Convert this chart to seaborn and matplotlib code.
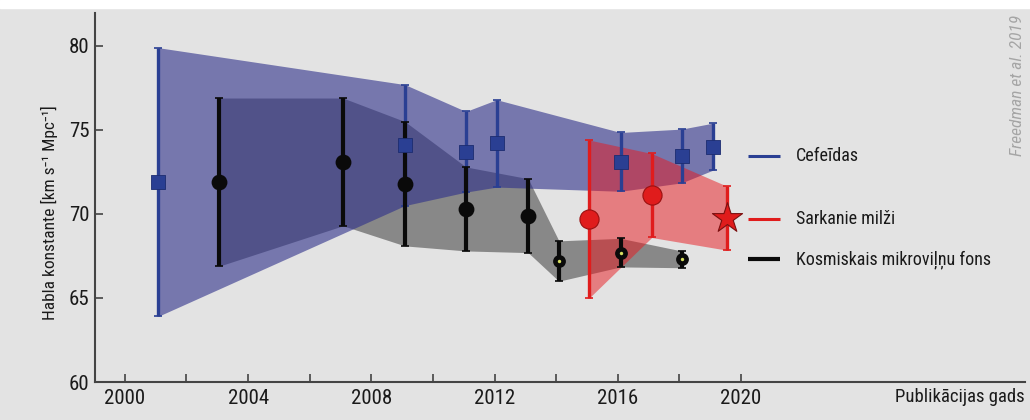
import numpy as np
import matplotlib.pyplot as plt
import seaborn as sns
from matplotlib.patches import Rectangle

# Cefeīdas (Cepheids)
cep_year = [2001.07, 2009.09, 2011.07, 2012.07, 2016.09, 2018.07, 2019.08]
cep_h0 = [71.9, 74.1, 73.7, 74.2, 73.1, 73.45, 74.0]
cep_err = [8.0, 3.6, 2.4, 2.6, 1.75, 1.6, 1.4]

# Kosmiskais mikroviļņu fons: WMAP points and Planck points
wmap_year = [2003.07, 2007.08, 2009.09, 2011.07, 2013.09]
wmap_h0 = [71.9, 73.1, 71.8, 70.3, 69.9]
wmap_err = [5.0, 3.8, 3.7, 2.5, 2.2]
planck_year = [2014.09, 2016.09, 2018.07]
planck_h0 = [67.2, 67.7, 67.3]
planck_err = [1.2, 0.85, 0.5]

# Sarkanie milži (TRGB)
trgb_year = [2015.07, 2017.1]
trgb_h0 = [69.7, 71.1]
trgb_err = [4.7, 2.5]
star_year = [2019.56]
star_h0 = [69.74]
star_err = [1.9]

label_names = ["Cefeīdas", "Sarkanie milži", "Kosmiskais mikroviļņu fons"]
x_ticks = [2000, 2004, 2008, 2012, 2016, 2020]
y_ticks = [60, 65, 70, 75, 80]

BG = "#e3e3e3"
BLUE = "#2a3f93"
RED = "#e01c1c"
BLACK = "#0a0a0a"

sns.set_style("ticks")
plt.rcParams["font.family"] = ["Roboto Condensed", "Archivo Narrow", "PT Sans Narrow",
                               "Liberation Sans Narrow", "DejaVu Sans"]

fig = plt.figure(figsize=(10.3, 4.2), dpi=100, facecolor=BG)
fig.patches.append(Rectangle((0, 1 - 8 / 420), 1, 8 / 420, transform=fig.transFigure,
                             color="white", zorder=-10))
ax = fig.add_axes([95 / 1030, 38 / 420, 930 / 1030, 369 / 420])
ax.set_facecolor("none")

cmb_year = np.array(wmap_year + planck_year)
cmb_h0 = np.array(wmap_h0 + planck_h0)
cmb_err = np.array(wmap_err + planck_err)
cy, ch, ce = np.array(cep_year), np.array(cep_h0), np.array(cep_err)
ty = np.array(trgb_year + star_year)
th = np.array(trgb_h0 + star_h0)
te = np.array(trgb_err + star_err)

# shaded bands
ax.fill_between(cmb_year, cmb_h0 - cmb_err, cmb_h0 + cmb_err, color="black", alpha=0.4,
                lw=0, zorder=1)
ax.fill_between(cy, ch - ce, ch + ce, color="#2d2f8a", alpha=0.6, lw=0, zorder=2)
ax.fill_between(ty, th - te, th + te, color="#e8181e", alpha=0.5, lw=0, zorder=3)

# error bars
ax.errorbar(cy, ch, yerr=ce, fmt="none", ecolor=BLUE, elinewidth=2.4, capsize=3,
            capthick=1.2, zorder=5)
ax.errorbar(cmb_year, cmb_h0, yerr=cmb_err, fmt="none", ecolor=BLACK, elinewidth=3,
            capsize=3, capthick=1.2, zorder=5)
ax.errorbar(ty, th, yerr=te, fmt="none", ecolor=RED, elinewidth=2.4, capsize=3,
            capthick=1.2, zorder=5)

# markers
sns.scatterplot(x=cep_year, y=cep_h0, marker="s", s=95, color=BLUE, edgecolor="#1c2c70",
                linewidth=0.6, ax=ax, zorder=6)
sns.scatterplot(x=wmap_year, y=wmap_h0, marker="o", s=130, color=BLACK, edgecolor=BLACK,
                linewidth=0, ax=ax, zorder=6)
sns.scatterplot(x=planck_year, y=planck_h0, marker="o", s=85, color=BLACK, edgecolor=BLACK,
                linewidth=0, ax=ax, zorder=6)
sns.scatterplot(x=planck_year, y=planck_h0, marker="o", s=6, color="#d8e060", linewidth=0,
                ax=ax, zorder=7)
sns.scatterplot(x=trgb_year, y=trgb_h0, marker="o", s=190, color=RED, edgecolor="#9a1010",
                linewidth=0.8, ax=ax, zorder=6)
sns.scatterplot(x=star_year, y=star_h0, marker="*", s=520, color=RED, edgecolor="#7a1010",
                linewidth=0.8, ax=ax, zorder=6)

# labels on the right
label_y = [73.45, 69.7, 67.3]
for name, yv, col, lw in zip(label_names, label_y, [BLUE, RED, BLACK], [2.2, 2.2, 3.0]):
    ax.plot([2020.23, 2021.27], [yv, yv], color=col, lw=lw, solid_capstyle="butt", zorder=4)
    ax.text(2021.79, yv, name, fontsize=13, va="center", ha="left", color="#1a1a1a")

ax.set_xlim(1999.03, 2029.22)
ax.set_ylim(60, 81.96)
ax.set_xticks(x_ticks)
ax.set_xticks([2002, 2006, 2010, 2014, 2018], minor=True)
ax.set_yticks(y_ticks)
ax.tick_params(axis="both", which="both", direction="in", length=6, width=1.2,
               color="#444444", labelsize=15, labelcolor="#1a1a1a")
ax.tick_params(axis="x", pad=5)
ax.tick_params(axis="y", pad=4)
for side in ["top", "right"]:
    ax.spines[side].set_visible(False)
for side in ["left", "bottom"]:
    ax.spines[side].set_color("#444444")
    ax.spines[side].set_linewidth(1.5)

ax.set_xlabel("Publikācijas gads", fontsize=13.5, color="#1a1a1a", ha="right")
ax.xaxis.set_label_coords(1.0, -0.017)
ax.xaxis.label.set_va("top")
ax.set_ylabel("Habla konstante [km s⁻¹ Mpc⁻¹]", fontsize=12.5, color="#1a1a1a")
ax.yaxis.set_label_coords(-0.040, 0.458)

fig.text(0.988, 0.965, "Freedman et al. 2019", rotation=90, ha="center", va="top",
         fontsize=12.5, style="italic", color="#a5a5a5")

fig.savefig("out.png", dpi=100, facecolor=BG)
